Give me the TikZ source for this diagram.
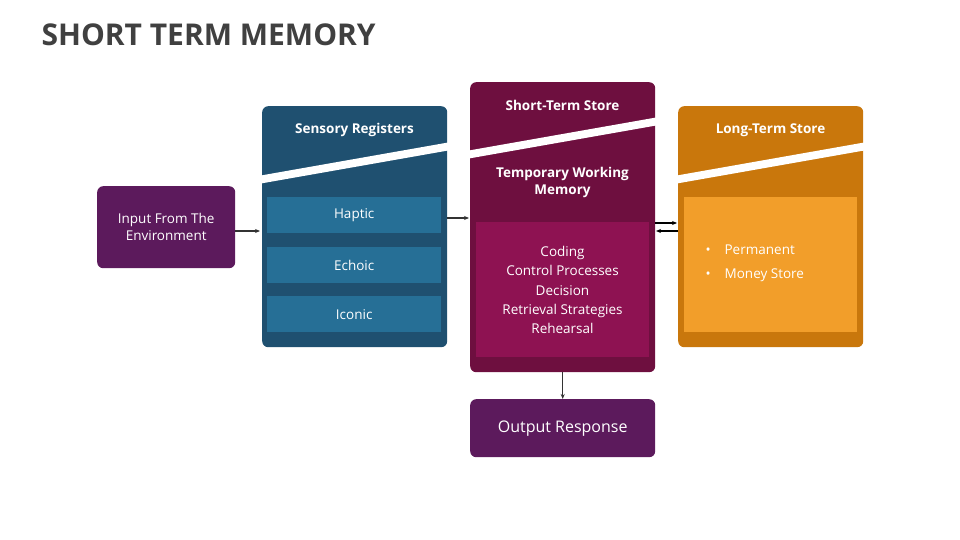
\documentclass[tikz,border=0pt]{standalone}
\usepackage{fontspec}
\setmainfont{Open Sans}
\usetikzlibrary{arrows.meta}
\definecolor{sb}{HTML}{1F5070}\definecolor{sbi}{HTML}{266F96}
\definecolor{st}{HTML}{6E0F3F}\definecolor{sti}{HTML}{8E1252}
\definecolor{lt}{HTML}{C9770C}\definecolor{lti}{HTML}{F29E2A}
\definecolor{io}{HTML}{5C1A5C}\definecolor{ttl}{HTML}{404040}
\begin{document}
\begin{tikzpicture}[x=1pt,y=-1pt,
 box/.style={rounded corners=6pt,inner sep=0pt,anchor=north west},
 lbl/.style={text=white,font=\fontsize{13.5}{17}\selectfont,align=center},
 hd/.style={text=white,font=\fontsize{13.5}{17}\selectfont\bfseries,align=center},
 arr/.style={-{Stealth[length=5pt,width=4pt]},line width=1.1pt,draw=black!80}]
\useasboundingbox (0,0) rectangle (960,540);
\node[anchor=west,text=ttl,font=\fontsize{30}{34}\selectfont\bfseries] (title) at (38,35) {SHORT TERM MEMORY};
% boxes
\node[box,fill=io,minimum width=138pt,minimum height=82pt] (in) at (97,186) {};
\node[lbl] at (in.center) {Input From The\\Environment};
\node[box,fill=sb,minimum width=185pt,minimum height=241pt] (sr) at (262,106) {};
\node[box,fill=st,minimum width=185pt,minimum height=290pt] (sts) at (470,82) {};
\node[box,fill=lt,minimum width=185pt,minimum height=241pt] (lts) at (678,106) {};
\node[box,fill=io,minimum width=185pt,minimum height=58pt] (out) at (470,399) {};
\node[lbl,font=\fontsize{16}{19}\selectfont] at (out.center) {Output Response};
% bands
\fill[white] (258,176) -- (451,142) -- (451,150) -- (258,184) -- cycle;
\fill[white] (466,151) -- (659,117) -- (659,125) -- (466,159) -- cycle;
\fill[white] (674,176) -- (867,142) -- (867,150) -- (674,184) -- cycle;
% headers
\node[hd] (h1) at (354.5,130) {Sensory Registers};
\node[hd] (h2) at (562.5,105) {Short-Term Store};
\node[hd] (h3) at (770.5,130) {Long-Term Store};
\node[hd] (h4) at (562.5,182) {Temporary Working\\Memory};
% inner
\node[fill=sbi,inner sep=0pt,anchor=north west,minimum width=174pt,minimum height=36pt] (hap) at (267,197) {};
\node[lbl] at (hap.center) {Haptic};
\node[fill=sbi,inner sep=0pt,anchor=north west,minimum width=174pt,minimum height=36pt] (ech) at (267,247) {};
\node[lbl] at (ech.center) {Echoic};
\node[fill=sbi,inner sep=0pt,anchor=north west,minimum width=174pt,minimum height=36pt] (ico) at (267,296) {};
\node[lbl] at (ico.center) {Iconic};
\node[fill=sti,inner sep=0pt,anchor=north west,minimum width=173pt,minimum height=135pt] (wm) at (476,222) {};
\node[lbl,font=\fontsize{13.5}{19.3}\selectfont] at (562.5,290) {Coding\\Control Processes\\Decision\\Retrieval Strategies\\Rehearsal};
\node[fill=lti,inner sep=0pt,anchor=north west,minimum width=173pt,minimum height=135pt] (lm) at (684,197) {};
\node[lbl,anchor=west] at (702,250) {\textbullet\hspace{14pt}Permanent};
\node[lbl,anchor=west] at (702,275) {\textbullet\hspace{14pt}Money Store};
% arrows
\coordinate (a1) at (235,231); \coordinate (a2) at (260,231);
\draw[arr] (a1) -- (a2);
\coordinate (b1) at (447,218); \coordinate (b2) at (469,218);
\draw[arr] (b1) -- (b2);
\coordinate (c1) at (655,223); \coordinate (c2) at (677,223);
\draw[arr,draw=black] (c1) -- (c2);
\coordinate (d1) at (678,231); \coordinate (d2) at (656,231);
\draw[arr,draw=black] (d1) -- (d2);
\draw[arr] (sts.south) -- (out.north);
\end{tikzpicture}
\end{document}
